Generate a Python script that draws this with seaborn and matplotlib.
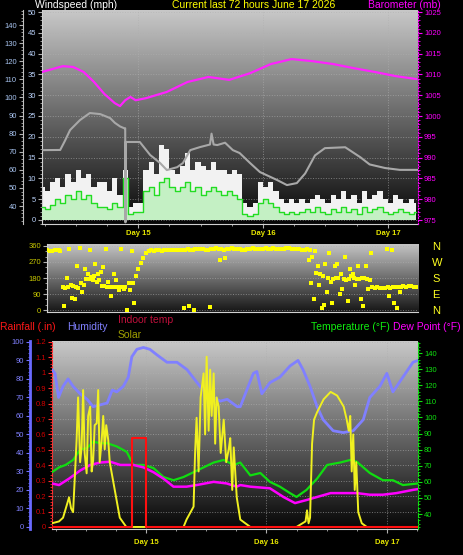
import numpy as np
import pandas as pd
import matplotlib
matplotlib.use('Agg')
import matplotlib.pyplot as plt
import seaborn as sns
from matplotlib.colors import LinearSegmentedColormap
from matplotlib.ticker import MultipleLocator, FuncFormatter

N = np.nan
hours = np.arange(73)          # hour since start of the 72h window
day_pos = [18.5, 42.5, 66.5]   # midnight of each day
day_labels = ['Day 15', 'Day 16', 'Day 17']

# --- top panel: wind (mph), grey trace, barometer (mb)
wind_gust = [8, 7, 9, 10, 8, 11, 9, 12, 10, 11, 8, 9, 9, 7, 10, 6, 12, 3, 4, 4,
             12, 14, 11, 18, 17, 12, 11, 13, 16, 12, 14, 13, 12, 14, 12, 12, 11, 12, 11, 4,
             3, 4, 9, 8, 9, 7, 5, 4, 5, 4, 5, 4, 5, 6, 5, 4, 6, 5, 7, 5,
             6, 4, 7, 5, 6, 7, 5, 4, 6, 5, 4, 5, 4]
wind_avg = [3, 2.5, 3.5, 5, 4, 6, 5, 7, 5, 6, 4, 3, 3, 2.5, 4, 3, 10, 1.5, 2, 2,
            7, 8, 6, 9, 10, 8, 7, 8, 9, 7, 8, 6, 7, 8, 7, 6, 7, 6, 5, 1.5,
            1, 1.5, 4, 5, 4, 3, 2, 1.5, 2, 1.5, 2, 2.5, 2, 3, 2, 1.5, 2.5, 2, 3, 2,
            2.5, 1.5, 3, 2, 2.5, 3, 2, 1.5, 2, 2.5, 2, 1.5, 2]

baro_hours = [0, 4, 6, 8, 10, 12, 14, 15, 16, 17, 18, 20, 24, 28, 32, 36, 40, 44, 48, 52, 56, 60, 64, 68, 72]
baro_mb = [1010.6, 1012.0, 1011.8, 1010.6, 1008.2, 1005.3, 1003.1, 1002.4, 1003.8, 1004.6, 1003.8, 1004.3,
           1005.8, 1008.2, 1009.4, 1008.7, 1010.3, 1012.5, 1013.7, 1013.2, 1012.5, 1011.5, 1010.6, 1009.6, 1008.9]

grey_hours = [0, 3.5, 4.4, 5.4, 7.3, 9.2, 11.2, 13.1, 14, 15, 15.8, 16, 16.05, 16.1, 18.8, 20.8, 22.7, 24, 26, 27.1,
              28.5, 30.4, 32.3, 32.6, 33, 33.7, 35.2, 36.7, 38, 40, 41.9, 45.2, 47.1, 49, 50.6, 52.5, 54.4, 58.3,
              61.2, 63, 66, 68.8, 72.3]
grey_val = [70.9, 71, 76, 82, 87.5, 91.4, 90.8, 88.6, 86, 84, 83, 83, 31, 75.4, 75.4, 68.2, 63.8, 59.9, 61.5, 63.8,
            70.9, 72.6, 74, 80, 74, 73.7, 75, 70.9, 69.3, 63.8, 58.8, 54.4, 51.6, 52.7, 58, 68, 72, 72.5,
            67, 63, 61, 60, 60]

# --- middle panel: wind direction (deg), four samples per hour
dir_a = [N, 335, 332, 338, 130, 128, 135, 125, 140, 175, 190, 170, 135, 130, 128, 130, 132,
         110, 190, 265, 318,
         335, 338, 332, 336, 340, 338, 335, 342, 340,
         343, 345, 340, 342, 345, 340, 343, 345, 342, 340, 345,
         343, 345, 347, 345, 342, 345, 347, 343, 345, 340, 345,
         300, 250, 190, 180, 175, 178, 172, 176, 180, 175, 178, 170,
         125, 125, 126, 125, 128, 130, 132, 135, 130]
dir_b = [N, 330, 335, 330, 125, 140, 130, 150, 175, 185, 160, 135, 130, 128, 132, 130, N, 150, 230, 290, 330,
         333, 336, 338, 340, 336, 340, 338, 340, 342, 345, 340, 343, 347, 345, 343, 346, 344, 340, 345, 347,
         345, 343, 345, 347, 345, 343, 346, 345, 342, 340, 338,
         330, 200, 260, 160, 180, 200, 170, 190, 175, 180, 175, 130, 128, 125, 127, 128, 130, 133, 135, 132, N]
dir_c = [N, N, N, 340, 20, 345, 60, 350, 230, 340, 260, 215, 345, 80, 170, 345, 0, 330] + [N] * 9 + \
        [10, 20, 0, N, N, 15, N, 280, 290] + [N] * 15 + \
        [280, 60, 140, 30, 320, 250, 90, 300, 230, 140, 60, 250, 320, N, N, 345, 340, 10, N, N, N, N]
dir_d = [N, N, N, N, 180, 70, 250, 100, 200, 170, 205, 240, 160, 200, 110, 120, 150, 40] + [N] * 33 + \
        [150, 210, 10, 100, 40, 260, 120, 50, 200, 250, 20, 120, N, N, N, 80, 40, 100, N, N, N, N]
dir_sets = [(0.0, dir_a), (0.5, dir_b), (0.25, dir_c), (0.75, dir_d)]
compass = ['N', 'E', 'S', 'W', 'N']

# --- bottom panel: humidity (%), temperature / dew point (F), solar (% of scale), rain (in)
hum_hours = [-0.2, 0.4, 1.1, 2, 3, 4, 5.4, 6.8, 8, 9.4, 10.8, 11.8, 12.7, 14, 15, 15.7, 16.7, 18, 19.3, 20.7,
             22.7, 24.7, 26.7, 28.7, 29.9, 31.3, 33.3, 34.7, 36.7, 37.3, 38.6, 39.9, 40.6, 41.6, 43.2, 45.2,
             47.2, 48.8, 49.8, 51.2, 52.6, 53.8, 55.8, 57.8, 59.8, 61.8, 63.1, 65.1, 66.5, 67.7, 69.7, 71.7, 72.7]
hum_vals = [85, 83, 70, 76, 80, 76, 72, 69, 65, 66, 67, 74, 73, 76, 81, 92, 96, 97, 96, 93,
            89, 89, 85, 78, 74, 71, 68, 69, 65, 65, 74, 83, 84, 72, 78, 81,
            87, 90, 85, 76, 65, 58, 52, 51, 52, 58, 70, 76, 83, 73, 81, 89, 90]

temp_hours = [-0.2, 1.2, 2.5, 4, 5.4, 6.8, 8, 9.4, 10.8, 12.7, 14.7, 16, 18, 20, 22, 24, 26, 28, 30, 32,
              34, 36, 37.3, 39.3, 41.3, 43.2, 45.2, 47.2, 48.5, 50.5, 52.6, 54.6, 57.2, 59.2, 60.5, 63.1,
              65.7, 67.7, 69.7, 72.7]
temp_vals = [66, 69, 70.5, 73.6, 80, 81, 85, 84, 84, 82, 78.6, 70.5, 70.5, 68.6, 63, 61, 63, 66, 69, 72,
             73.6, 70.5, 72, 64, 65.5, 60, 57, 53, 50.6, 55, 62, 70.5, 72, 73.6, 72.5, 65.5,
             61, 61, 58, 59]

dew_hours = [-0.2, 1.2, 3.2, 5.4, 7.4, 9.4, 11.4, 13.4, 16, 18, 20, 22, 24, 26.6, 28.6, 32, 34.6, 36.6, 37.3,
             39.3, 43.2, 45.9, 48.2, 50.5, 52.6, 55.3, 57.8, 60.5, 63.1, 65.7, 68.4, 71.7, 72.7]
dew_vals = [59, 58, 62, 67, 70.5, 72, 72.5, 70.5, 70.5, 69, 66, 62, 57, 57, 58, 60, 59, 57, 58,
            57, 56, 50.6, 46.8, 48.7, 50.6, 53, 53, 53, 52, 52, 53, 55, 55.5]

sol_hours = [-0.2, 1.2, 2, 3.2, 3.6, 4, 4.4, 4.7, 5, 5.4, 5.7, 6, 6.3, 6.7, 7, 7.4, 7.7, 8, 8.3, 8.7,
             9, 9.3, 9.7, 10, 10.3, 10.6, 11, 11.3, 11.7, 12.3, 13.3, 14.6,
             26, 26.6, 28, 28.3, 28.6, 29, 29.4, 30, 30.3, 30.6, 31, 31.3, 31.6, 32, 32.3, 32.6, 33, 33.4,
             34, 34.5, 35, 35.3, 35.7, 36, 36.6, 37.3, 39.3,
             48.5, 50.3, 50.6, 50.9, 51.2, 51.6, 52, 52.6, 53.9, 55.3, 56.6, 57.9, 58.5, 58.9, 59.2, 59.5,
             59.8, 60.1, 60.4, 60.8, 61.5, 62.5, 72.7]
sol_vals = [2, 3, 5, 16, 10, 8, 30, 47, 70, 35, 43, 74, 40, 29, 60, 65, 30, 36, 55, 56,
            74, 35, 47, 60, 42, 55, 47, 35, 29, 20, 5, 0,
            0, 4, 11, 40, 59, 30, 70, 83, 50, 92, 52, 85, 60, 83, 45, 70, 65, 40,
            58, 35, 42, 48, 20, 43, 16, 4, 0,
            0, 3, 9, 2, 5, 45, 58, 62, 69, 73, 71, 65, 58, 52, 60, 30,
            50, 20, 35, 8, 2, 0, 0]

rain_hours = [-0.2, 15.7, 18.5, 72.7]
rain_in = [0, 0.58, 0, 0]

sns.set_style('dark')
plt.rcParams['font.family'] = ['Liberation Sans', 'DejaVu Sans']

W, H = 463, 555
fig = plt.figure(figsize=(W / 100, H / 100), dpi=100, facecolor='black')
PX = 0.72  # points per pixel


def box(l, t, r, b):
    return [l / W, 1 - b / H, (r - l) / W, (b - t) / H]


def shade(ax, top, bottom):
    cmap = LinearSegmentedColormap.from_list('bg', [bottom, top])
    ax.imshow(np.linspace(0, 1, 256).reshape(-1, 1), cmap=cmap, origin='lower', aspect='auto',
              extent=[0, 1, 0, 1], transform=ax.transAxes, zorder=0, interpolation='bilinear')


def only_spine(ax, keep):
    for k, sp in ax.spines.items():
        sp.set_visible(k in keep)


def yticks(ax, side, major, minor, color, tcolor, fs=5.5):
    ax.yaxis.set_major_locator(MultipleLocator(major))
    ax.yaxis.set_minor_locator(MultipleLocator(minor))
    kw = dict(left=(side == 'left'), right=(side == 'right'), labelleft=(side == 'left'),
              labelright=(side == 'right'), direction='out', color=tcolor)
    ax.tick_params(axis='y', which='major', length=4 * PX, width=0.8, labelsize=fs,
                   labelcolor=color, pad=1.5, **kw)
    ax.tick_params(axis='y', which='minor', length=2.5 * PX, width=0.6, **kw)


def xdays(ax, pad):
    ax.set_xticks(day_pos)
    ax.set_xticklabels(day_labels)
    ax.xaxis.set_minor_locator(MultipleLocator(6, offset=0.5))
    ax.tick_params(axis='x', which='both', bottom=True, direction='out', color='#b0b0b0')
    ax.tick_params(axis='x', which='major', length=4 * PX, labelsize=5.5, labelcolor='#e6e600', pad=pad)
    ax.tick_params(axis='x', which='minor', length=2.5 * PX)
    for t in ax.get_xticklabels():
        t.set_fontweight('bold')


# ================= top panel
ax_w = fig.add_axes(box(42, 10, 418, 224))
ax_w.set_facecolor('black')
shade(ax_w, '#c8c8c8', '#060606')
ax_w.fill_between(hours, 0, wind_gust, step='mid', color='#f2f2f2', lw=0, zorder=2)
ax_w.fill_between(hours, 0, wind_avg, step='mid', color='#c4f0c4', lw=0, zorder=3)
sns.lineplot(x=hours, y=wind_avg, ax=ax_w, color='#22dd22', lw=1, drawstyle='steps-mid', zorder=4)
ax_w.set_xlim(0, 72.3)
ax_w.set_ylim(-1, 50.5)
ax_w.grid(True, which='major', color='#b0b0b0', ls=':', lw=0.7, alpha=0.6)
yticks(ax_w, 'left', 5, 1, '#b8d0f8', '#b0b0b0')
xdays(ax_w, 1.5)
only_spine(ax_w, ['left', 'bottom'])
ax_w.spines['left'].set_color('#d0d0d0')
ax_w.spines['bottom'].set_color('#d0d0d0')
ax_w.set_xlabel('')
ax_w.set_ylabel('')

ax_o = ax_w.twinx()
sns.lineplot(x=grey_hours, y=grey_val, ax=ax_o, color='#a8a8a8', lw=1.5, sort=False, estimator=None, zorder=3)
ax_o.set_ylim(30.1, 148.3)
ax_o.yaxis.set_ticks_position('left')
yticks(ax_o, 'left', 10, 2, '#a8c4f0', '#b0b0b0')
only_spine(ax_o, ['left'])
ax_o.spines['left'].set_position(('outward', 19 * PX))
ax_o.spines['left'].set_color('#c0c0c0')
ax_o.set_ylabel('')

ax_bar = ax_w.twinx()
sns.lineplot(x=baro_hours, y=baro_mb, ax=ax_bar, color='#ff22ff', lw=1.6, zorder=3)
ax_bar.set_ylim(974.04, 1025.5)
yticks(ax_bar, 'right', 5, 1, '#ff00ff', '#ff00ff')
only_spine(ax_bar, ['right'])
ax_bar.spines['right'].set_color('#ff00ff')
ax_bar.spines['right'].set_linestyle(':')
ax_bar.set_ylabel('')
ax_w.set_xlim(0, 72.3)

# ================= middle panel
ax_d = fig.add_axes(box(47, 244, 418, 312))
ax_d.set_facecolor('black')
shade(ax_d, '#c4c4c4', '#161616')
dir_df = pd.concat([pd.DataFrame({'h': hours + off, 'deg': d}) for off, d in dir_sets]).dropna()
sns.scatterplot(data=dir_df, x='h', y='deg', ax=ax_d, color='#ffff00', marker='s', s=5,
                linewidth=0, zorder=3)
ax_d.set_xlim(0.96, 72.3)
ax_d.set_ylim(-11, 371)
ax_d.set_yticks([0, 90, 180, 270, 360])
ax_d.yaxis.set_minor_locator(MultipleLocator(30))
ax_d.tick_params(axis='y', which='major', left=True, direction='out', length=4 * PX, color='#b0b0b0',
                 labelsize=5.5, labelcolor='#c8c800', pad=1.5)
ax_d.tick_params(axis='y', which='minor', left=True, direction='out', length=2.5 * PX, color='#b0b0b0')
ax_d.set_xticks([])
ax_d.grid(True, axis='y', color='#b0b0b0', ls=':', lw=0.7, alpha=0.6)
only_spine(ax_d, ['left', 'bottom'])
ax_d.spines['left'].set_color('#d0d0d0')
ax_d.spines['bottom'].set_color('#d0d0d0')
ax_d.set_xlabel('')
ax_d.set_ylabel('')

ax_c = ax_d.twinx()
ax_c.set_ylim(-11, 371)
ax_c.set_yticks([0, 90, 180, 270, 360])
ax_c.set_yticklabels(compass)
ax_c.tick_params(axis='y', right=True, length=0, labelsize=8, labelcolor='#ffff20', pad=14 * PX)
only_spine(ax_c, [])

# ================= bottom panel
ax_b = fig.add_axes(box(52, 341, 418, 529))
ax_b.set_facecolor('black')
shade(ax_b, '#c8c8c8', '#060606')
ax_b.set_xlim(-0.2, 72.7)
ax_b.set_ylim(-0.0135, 1.206)
yticks(ax_b, 'left', 0.1, 0.02, '#d00000', '#ff3030')
ax_b.yaxis.set_major_formatter(FuncFormatter(lambda v, p: f'{round(v, 1):g}'))
xdays(ax_b, 4)
ax_b.grid(True, which='major', color='#b0b0b0', ls=':', lw=0.7, alpha=0.6)
only_spine(ax_b, ['left', 'bottom'])
ax_b.spines['left'].set_color('#ff3030')
ax_b.spines['left'].set_linestyle('--')
ax_b.spines['bottom'].set_color('#d0d0d0')

ax_h = ax_b.twinx()
sns.lineplot(x=hum_hours, y=hum_vals, ax=ax_h, color='#8080ff', lw=2, zorder=3)
ax_h.set_ylim(-1.1, 100.5)
ax_h.yaxis.set_ticks_position('left')
yticks(ax_h, 'left', 10, 2, '#8080ff', '#7070ff')
only_spine(ax_h, ['left'])
ax_h.spines['left'].set_position(('outward', 22 * PX))
ax_h.spines['left'].set_color('#6a6aff')
ax_h.spines['left'].set_linewidth(2)
ax_h.set_ylabel('')

ax_t = ax_b.twinx()
sns.lineplot(x=temp_hours, y=temp_vals, ax=ax_t, color='#10dd10', lw=1.6, zorder=3)
sns.lineplot(x=dew_hours, y=dew_vals, ax=ax_t, color='#ff00ff', lw=1.8, zorder=3)
ax_t.set_ylim(30.7, 147.5)
yticks(ax_t, 'right', 10, 2, '#10e010', '#10e010')
only_spine(ax_t, ['right'])
ax_t.spines['right'].set_color('#10e010')
ax_t.spines['right'].set_linestyle('--')
ax_t.set_ylabel('')

ax_s = ax_b.twinx()
sns.lineplot(x=sol_hours, y=sol_vals, ax=ax_s, color='#f0f020', lw=1.4, sort=False, estimator=None, zorder=3)
ax_s.set_ylim(-1.1, 100.5)
ax_s.axis('off')

ax_r = ax_b.twinx()
sns.lineplot(x=rain_hours, y=rain_in, ax=ax_r, color='#ff1010', lw=1.5, drawstyle='steps-post', zorder=3)
ax_r.set_ylim(-0.0135, 1.206)
ax_r.axis('off')
ax_b.set_xlim(-0.2, 72.7)

# ================= texts
fs = 7.5
fig.text(35 / W, 1 - 5 / H, 'Windspeed (mph)', color='white', fontsize=fs, va='center')
fig.text(254 / W, 1 - 5 / H, 'Current last 72 hours June 17 2026', color='#ffff00', fontsize=fs,
         va='center', ha='center')
fig.text(368 / W, 1 - 5 / H, 'Barometer (mb)', color='#ff00ff', fontsize=fs, va='center')
fig.text(0, 1 - 327 / H, 'Rainfall (.in)', color='#ff1818', fontsize=fs, va='center')
fig.text(67 / W, 1 - 327 / H, 'Humidity', color='#8080ff', fontsize=fs, va='center')
fig.text(118 / W, 1 - 320 / H, 'Indoor temp', color='#c0103c', fontsize=fs, va='center')
fig.text(118 / W, 1 - 335 / H, 'Solar', color='#a0a000', fontsize=fs, va='center')
fig.text(311 / W, 1 - 327 / H, 'Temperature (\u00b0F)', color='#10ee10', fontsize=fs, va='center')
fig.text(393 / W, 1 - 327 / H, 'Dew Point (\u00b0F)', color='#ff00ff', fontsize=fs, va='center')

fig.savefig('out.png', dpi=100, facecolor='black')
